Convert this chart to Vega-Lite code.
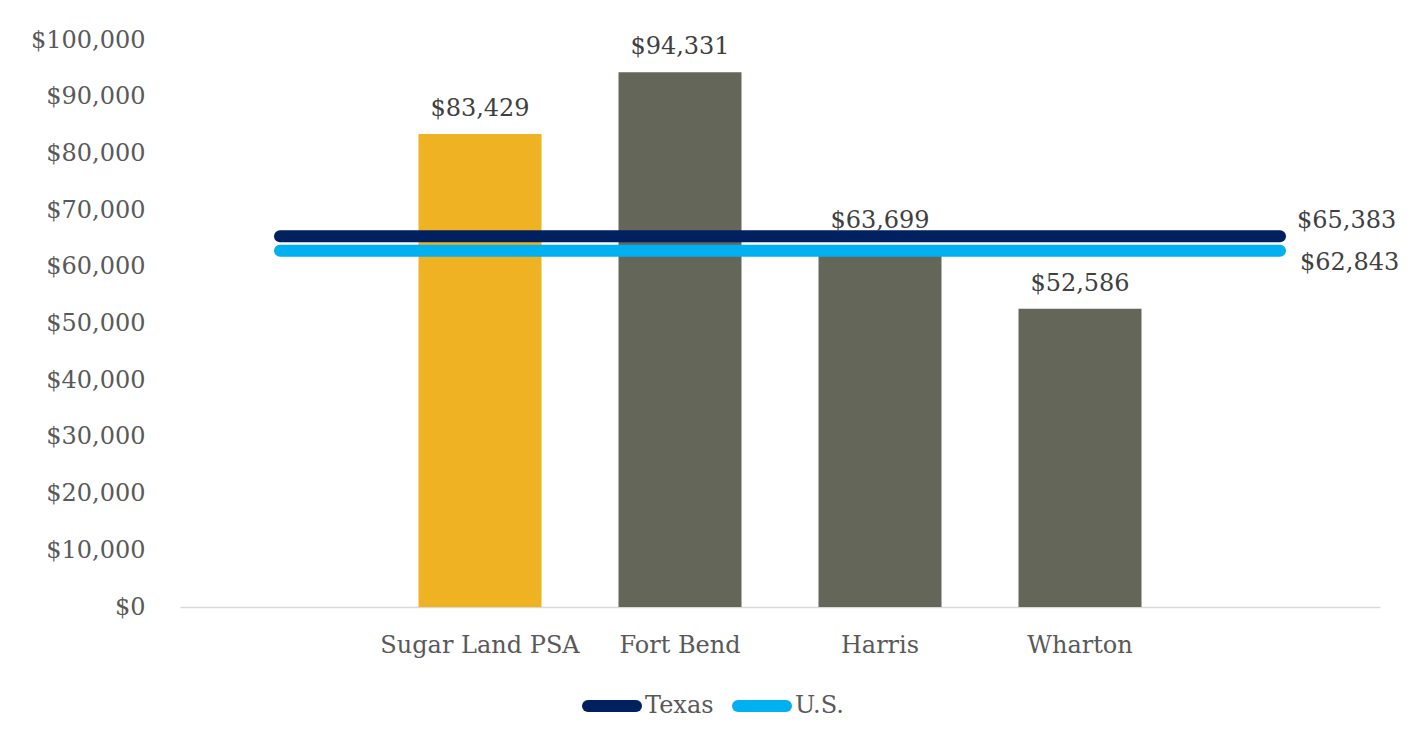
{
  "$schema": "https://vega.github.io/schema/vega-lite/v6.json",
  "width": 1200,
  "height": 567,
  "autosize": "none",
  "padding": {"left": 180, "top": 40, "right": 35, "bottom": 131},
  "background": "white",
  "config": {"view": {"stroke": null}, "font": "DejaVu Serif"},
  "datasets": {
    "bars": [
      {"area": "Sugar Land PSA", "income": 83429},
      {"area": "Fort Bend", "income": 94331},
      {"area": "Harris", "income": 63699},
      {"area": "Wharton", "income": 52586}
    ],
    "lines": [
      {"series": "Texas", "area": "_start", "income": 65383},
      {"series": "Texas", "area": "_end", "income": 65383},
      {"series": "U.S.", "area": "_start", "income": 62843},
      {"series": "U.S.", "area": "_end", "income": 62843}
    ]
  },
  "encoding": {
    "x": {
      "field": "area",
      "type": "nominal",
      "scale": {
        "domain": ["_start", "Sugar Land PSA", "Fort Bend", "Harris", "Wharton", "_end"],
        "paddingInner": 0.385,
        "paddingOuter": 0.1925
      },
      "axis": {
        "title": null,
        "labelAngle": 0,
        "labelLimit": 0,
        "labelExpr": "(datum.value == '_start' || datum.value == '_end') ? '' : datum.value",
        "labelFont": "DejaVu Serif",
        "labelFontSize": 24,
        "labelColor": "#595959",
        "labelPadding": 26,
        "ticks": false,
        "domainColor": "#D9D9D9",
        "domainWidth": 1.5,
        "grid": false
      }
    },
    "y": {
      "field": "income",
      "type": "quantitative",
      "scale": {"domain": [0, 100000], "nice": false},
      "axis": {
        "title": null,
        "values": [0, 10000, 20000, 30000, 40000, 50000, 60000, 70000, 80000, 90000, 100000],
        "format": "$,.0f",
        "labelFont": "DejaVu Serif",
        "labelFontSize": 24,
        "labelColor": "#595959",
        "labelPadding": 35,
        "ticks": false,
        "domain": false,
        "grid": false
      }
    }
  },
  "layer": [
    {
      "data": {"name": "bars"},
      "mark": {"type": "bar"},
      "encoding": {
        "color": {
          "condition": {"test": "datum.area === 'Sugar Land PSA'", "value": "#EFB223"},
          "value": "#64665A"
        }
      }
    },
    {
      "data": {"name": "lines"},
      "mark": {"type": "line", "strokeWidth": 12, "strokeCap": "round"},
      "encoding": {
        "color": {
          "field": "series",
          "type": "nominal",
          "scale": {"domain": ["Texas", "U.S."], "range": ["#002060", "#00B0F0"]},
          "legend": {
            "title": null,
            "orient": "none",
            "legendX": 402,
            "legendY": 636,
            "direction": "horizontal",
            "symbolType": "stroke",
            "symbolSize": 2304,
            "symbolStrokeWidth": 12,
            "labelFont": "DejaVu Serif",
            "labelFontSize": 24,
            "labelColor": "#595959",
            "labelOffset": 3,
            "columnPadding": 0,
            "encode": {"symbols": {"update": {"strokeCap": {"value": "round"}}}}
          }
        }
      }
    },
    {
      "data": {"name": "bars"},
      "mark": {"type": "text", "baseline": "alphabetic", "dy": -18, "font": "DejaVu Serif", "fontSize": 24, "color": "#404040"},
      "encoding": {"text": {"field": "income", "type": "quantitative", "format": "$,.0f"}}
    },
    {
      "data": {"name": "lines"},
      "transform": [{"filter": "datum.area == '_end' && datum.series == 'Texas'"}],
      "mark": {"type": "text", "align": "left", "baseline": "middle", "dx": 17, "dy": -15, "font": "DejaVu Serif", "fontSize": 24, "color": "#404040"},
      "encoding": {"text": {"field": "income", "type": "quantitative", "format": "$,.0f"}}
    },
    {
      "data": {"name": "lines"},
      "transform": [{"filter": "datum.area == '_end' && datum.series == 'U.S.'"}],
      "mark": {"type": "text", "align": "left", "baseline": "middle", "dx": 20, "dy": 12, "font": "DejaVu Serif", "fontSize": 24, "color": "#404040"},
      "encoding": {"text": {"field": "income", "type": "quantitative", "format": "$,.0f"}}
    }
  ]
}
